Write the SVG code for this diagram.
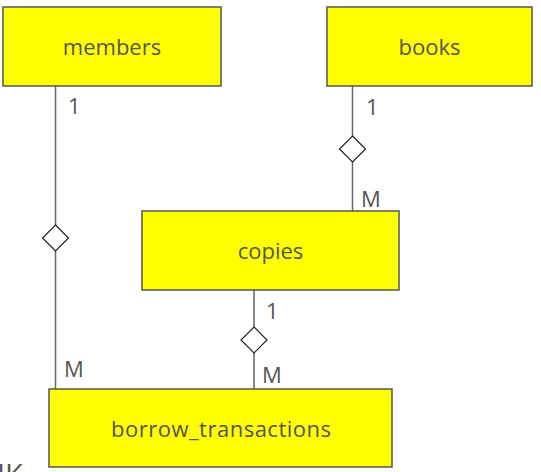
<svg xmlns="http://www.w3.org/2000/svg" width="541" height="472" viewBox="0 0 541 472">
<style>
.box{fill:#ffff00;stroke:#555;stroke-width:1.5}
.lbl{font-family:"Open Sans","Noto Sans",sans-serif;font-size:22px;fill:#555;text-anchor:middle}
.card{font-family:"Open Sans","Noto Sans",sans-serif;font-size:22px;fill:#555}
.line{stroke:#666;stroke-width:1.5;fill:none}
.dia{fill:#fff;stroke:#222;stroke-width:1.2}
</style>
<rect width="541" height="472" fill="#fff"/>
<g id="connectors">
<line class="line" x1="55.5" y1="86" x2="55.5" y2="389"/>
<polygon class="dia" points="55.5,225 68.5,238 55.5,251 42.5,238"/>
<text class="card" x="68" y="114">1</text>
<text class="card" x="64" y="377">M</text>
<line class="line" x1="352.5" y1="86" x2="352.5" y2="211"/>
<polygon class="dia" points="352.5,136 365.5,149 352.5,162 339.5,149"/>
<text class="card" x="366" y="115">1</text>
<text class="card" x="361" y="207">M</text>
<line class="line" x1="254" y1="290" x2="254" y2="389"/>
<polygon class="dia" points="254,327 267,340 254,353 241,340"/>
<text class="card" x="266" y="319">1</text>
<text class="card" x="262" y="383">M</text>
</g>
<g id="members">
<rect class="box" x="3" y="7" width="218" height="79"/>
<text class="lbl" x="112" y="55">members</text>
</g>
<g id="books">
<rect class="box" x="327" y="7" width="205" height="79"/>
<text class="lbl" x="429.5" y="55">books</text>
</g>
<g id="copies">
<rect class="box" x="142" y="211" width="257" height="79"/>
<text class="lbl" x="270.5" y="259">copies</text>
</g>
<g id="borrow_transactions">
<rect class="box" x="49" y="389" width="343" height="78"/>
<text class="lbl" x="221" y="437" textLength="220" lengthAdjust="spacing">borrow_transactions</text>
</g>
<text class="card" x="-3" y="485" style="font-size:29px">IK</text>
</svg>
